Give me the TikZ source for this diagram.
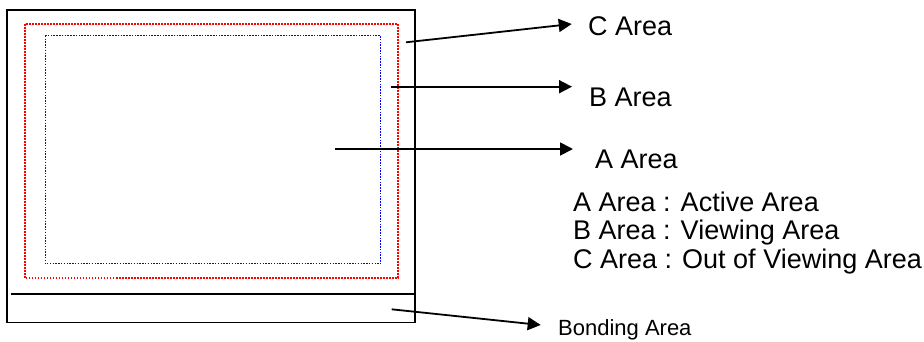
\documentclass[tikz,border=0pt]{standalone}
\usepackage{fontspec}
\setmainfont{Liberation Sans}
\usetikzlibrary{arrows.meta}

\begin{document}
\begin{tikzpicture}[x=1pt, y=-1pt,
        frame/.style={line width=1.9pt},
        redline/.style={red, line width=1.7pt, dash pattern=on 1.8pt off 1.2pt},
        blueline/.style={blue, line width=1.3pt, dash pattern=on 1.5pt off 1.3pt},
        pointer/.style={line width=1.8pt, -{Triangle[length=13pt, width=13pt]}},
        area/.style={inner sep=0pt, anchor=base west, font=\fontsize{27}{32}\selectfont},
        small/.style={inner sep=0pt, anchor=base west, font=\fontsize{22}{26}\selectfont}]
        \useasboundingbox (0,0) rectangle (924,341);

        % panel, bonding strip and the two inner borders
        \draw[frame] (7.3,10) rectangle (415,322.5);
        \draw[frame] (10.5,293.7) -- (415,293.7);
        \draw[redline] (24.7,23.7) rectangle (397.7,277.7);
        \draw[blueline] (45.3,35.7) rectangle (380.7,263.7);

        \coordinate (cfrom) at (406,42.3);
        \coordinate (bfrom) at (390.7,86.7);
        \coordinate (afrom) at (335,149);
        \coordinate (bondfrom) at (391.7,309.3);

        \node[area] (clabel) at (588,35) {C Area};
        \node[area] (blabel) at (589,106) {B Area};
        \node[area] (alabel) at (595,168) {A Area};
        \node[small] (bondlabel) at (558,335) {Bonding Area};

        \node[area] (akey) at (573,211) {A Area : Active Area};
        \node[area] (bkey) at (573,239.5) {B Area : Viewing Area};
        \node[area] (ckey) at (573,268) {C Area : Out of Viewing Area};

        \draw[pointer] (cfrom) -- ([xshift=-16.3pt, yshift=11pt]clabel.base west);
        \draw[pointer] (bfrom) -- ([xshift=-17pt, yshift=19.3pt]blabel.base west);
        \draw[pointer] (afrom) -- ([xshift=-22pt, yshift=19pt]alabel.base west);
        \draw[pointer] (bondfrom) -- ([xshift=-17.3pt, yshift=10pt]bondlabel.base west);

\end{tikzpicture}
\end{document}
